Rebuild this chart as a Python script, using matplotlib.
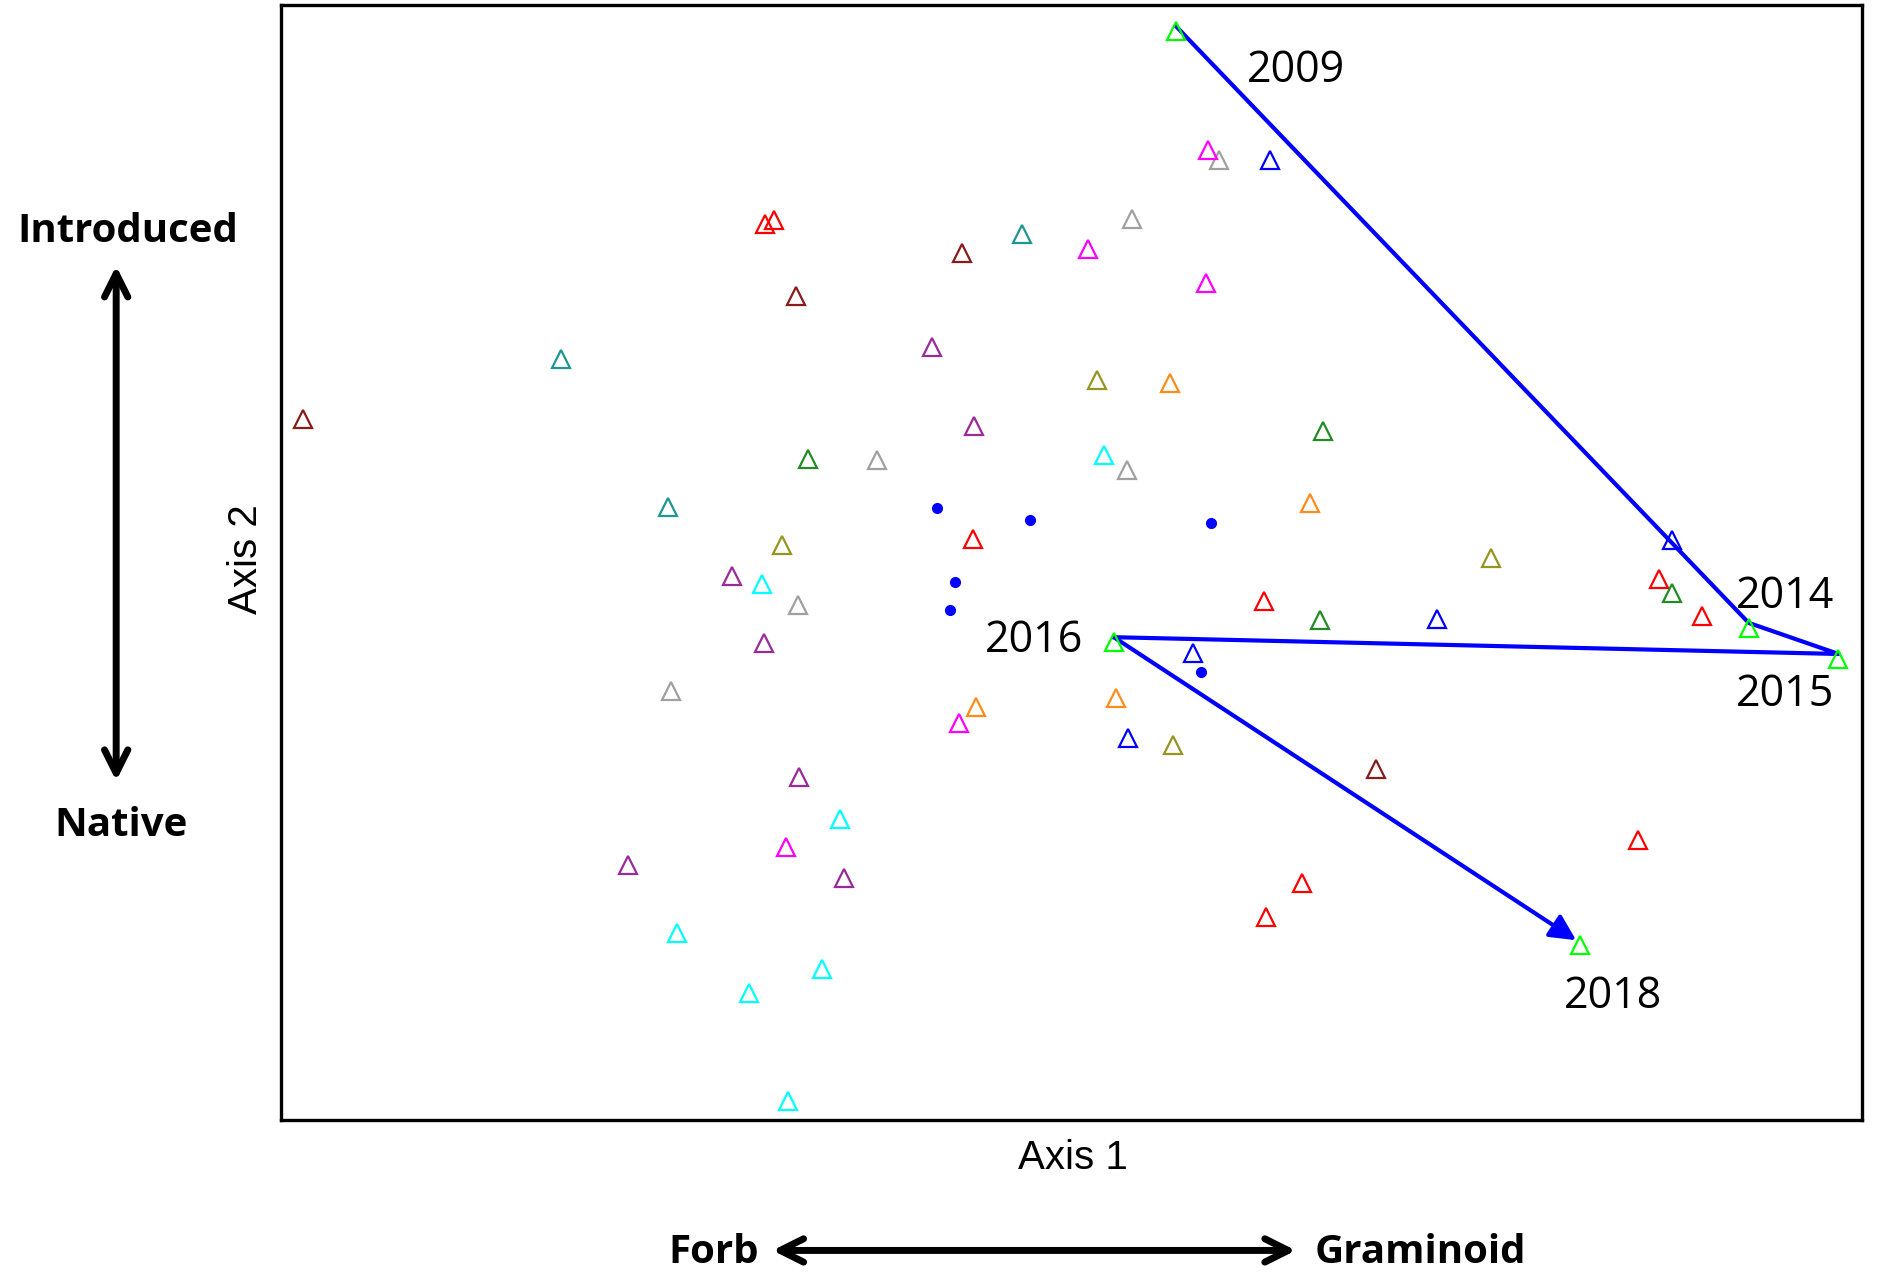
import matplotlib
matplotlib.use("Agg")
import matplotlib.pyplot as plt
from matplotlib.patches import FancyArrowPatch

# ---- data (ordination scores, in plot units: Axis 1 left->right, Axis 2 top->bottom scale) ----
years = ["2009", "2014", "2015", "2016", "2018"]
year_ax1 = [982, 1460, 1535, 930, 1319]
year_ax2 = [26, 524, 550, 536, 789]

red_ax1 = [639, 646, 812, 1055, 1385, 1421, 1368, 1087, 1057]
red_ax2 = [187, 184, 450, 502, 483, 514, 701, 737, 766]
darkred_ax1 = [253, 665, 803, 1149]
darkred_ax2 = [350, 247, 211, 642]
teal_ax1 = [468, 853, 558]
teal_ax2 = [300, 195, 423]
gray_ax1 = [945, 1018, 732, 941, 666, 560]
gray_ax2 = [183, 134, 384, 392, 505, 577]
magenta_ax1 = [1009, 908, 1007, 801, 656]
magenta_ax2 = [125, 208, 236, 604, 707]
blue_ax1 = [1060, 1396, 1200, 996, 942]
blue_ax2 = [134, 451, 517, 545, 616]
purple_ax1 = [778, 813, 611, 638, 667, 524, 705]
purple_ax2 = [290, 356, 481, 537, 649, 722, 733]
olive_ax1 = [916, 653, 1245, 979]
olive_ax2 = [317, 455, 466, 622]
orange_ax1 = [977, 1094, 815, 932]
orange_ax2 = [320, 420, 590, 583]
green_ax1 = [675, 1105, 1102, 1396]
green_ax2 = [383, 360, 518, 495]
cyan_ax1 = [922, 636, 701, 565, 686, 625, 658]
cyan_ax2 = [380, 488, 684, 779, 809, 829, 919]
dot_ax1 = [782, 860, 1011, 797, 793, 1003]
dot_ax2 = [424, 434, 437, 486, 509, 561]

groups = [
    (red_ax1, red_ax2, "#FF0000"),
    (darkred_ax1, darkred_ax2, "#8B1A1A"),
    (teal_ax1, teal_ax2, "#1E9696"),
    (gray_ax1, gray_ax2, "#A0A0A0"),
    (magenta_ax1, magenta_ax2, "#FF00FF"),
    (blue_ax1, blue_ax2, "#0000FF"),
    (purple_ax1, purple_ax2, "#9A2A9A"),
    (olive_ax1, olive_ax2, "#959520"),
    (orange_ax1, orange_ax2, "#FF8C1A"),
    (green_ax1, green_ax2, "#228B22"),
    (cyan_ax1, cyan_ax2, "#00FFFF"),
]

W, H = 1568.0, 1062.0  # reference layout grid

fig = plt.figure(figsize=(18.78, 12.72), dpi=100)
ax = fig.add_axes([235 / W, 1 - 935 / H, (1555 - 235) / W, (935 - 4) / H])
ax.set_xlim(235, 1555)
ax.set_ylim(935, 4)
ax.set_xticks([])
ax.set_yticks([])
for s in ax.spines.values():
    s.set_linewidth(2.4)
    s.set_color("black")

# trajectory
ax.plot(year_ax1[:4], [v - 4 for v in year_ax2[:4]], color="#0000FF", lw=3.0,
        solid_joinstyle="round", zorder=3)
ax.annotate("", xy=(year_ax1[4] - 3, year_ax2[4] - 4), xytext=(year_ax1[3], year_ax2[3] - 4),
            arrowprops=dict(arrowstyle="-|>,head_length=0.6,head_width=0.3", color="#0000FF", lw=3.0,
                            mutation_scale=26, shrinkA=0, shrinkB=0), zorder=3)

for xs, ys, c in groups:
    ax.plot(xs, ys, linestyle="none", marker="^", markersize=12.5,
            markerfacecolor="none", markeredgecolor=c, markeredgewidth=1.6, zorder=4)
ax.plot(year_ax1, year_ax2, linestyle="none", marker="^", markersize=12.5,
        markerfacecolor="none", markeredgecolor="#00FF00", markeredgewidth=1.6, zorder=4)
ax.plot(dot_ax1, dot_ax2, linestyle="none", marker="o", markersize=7,
        color="#0000FF", zorder=4)

# year labels
lab_off = {"2009": (100, 33), "2014": (30, -26), "2015": (-45, 30), "2016": (-67, -1), "2018": (28, 43)}
for y, a1, a2 in zip(years, year_ax1, year_ax2):
    dx, dy = lab_off[y]
    ax.text(a1 + dx, a2 + dy, y, fontsize=31, family="Open Sans",
            ha="center", va="center", color="black")

# axis titles
fig.text(896 / W, 1 - 967 / H, "Axis 1", fontsize=29, family="Liberation Sans",
         ha="center", va="center")
fig.text(205 / W, 1 - 467 / H, "Axis 2", fontsize=29, family="Liberation Sans",
         ha="center", va="center", rotation=90)

# outside gradient annotations
for txt, px, py in [("Introduced", 107, 193), ("Native", 101, 689),
                    ("Forb", 596, 1046), ("Graminoid", 1186, 1046)]:
    fig.text(px / W, 1 - py / H, txt, fontsize=29, family="Open Sans",
             weight="bold", ha="center", va="center")

arrow_kw = dict(arrowstyle="<->", color="black", lw=5, mutation_scale=42,
                shrinkA=0, shrinkB=0)
fig.add_artist(FancyArrowPatch((97 / W, 1 - 222 / H), (97 / W, 1 - 652 / H),
                               transform=fig.transFigure, **arrow_kw))
fig.add_artist(FancyArrowPatch((645 / W, 1 - 1044 / H), (1082 / W, 1 - 1044 / H),
                               transform=fig.transFigure, **arrow_kw))

fig.savefig("out.png", dpi=100)
